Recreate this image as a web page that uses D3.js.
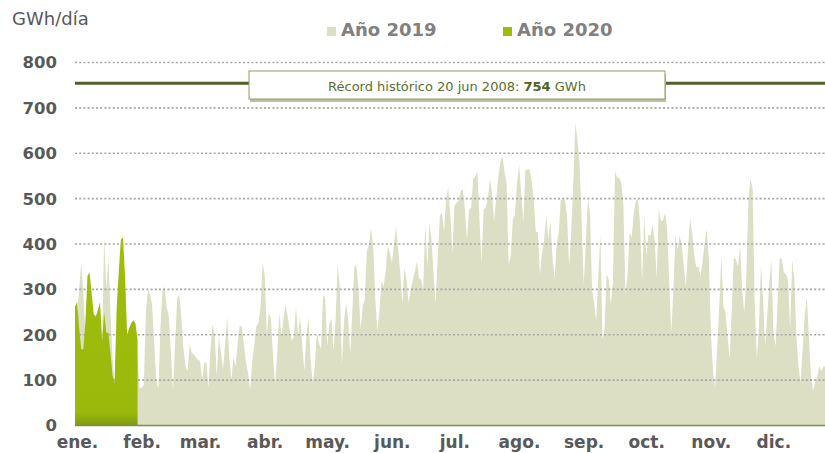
<!DOCTYPE html>
<html><head><meta charset="utf-8">
<script src="https://cdn.jsdelivr.net/npm/d3@7"></script>
<style>
html,body{margin:0;padding:0;background:#fff;}
svg{display:block;font-family:"DejaVu Sans",Verdana,sans-serif;}
</style></head>
<body>
<svg id="chart" width="825" height="453"></svg>
<script>
// ---- Data (GWh/día) ----
const monthLabels = ["ene.","feb.","mar.","abr.","may.","jun.","jul.","ago.","sep.","oct.","nov.","dic."];
const yTicks = [0,100,200,300,400,500,600,700,800];
const seriesNames = ["Año 2019","Año 2020"];
const recordValue = 754;
const recordText = "Récord histórico 20 jun 2008: ";

const ene2019 = [255,240,300,360,290,200,240,300,270,230,210,230,260,180,415,300,370,250,150,90,200,300,330,300,260,200,210,220,220,200,150];
const feb2019 = [83,83,90,250,300,290,265,180,100,80,220,300,305,260,240,160,76,180,280,290,240,170,130,120,180,160,157,150];
const mar2019 = [145,142,101,138,140,83,170,223,200,109,197,160,123,180,241,150,101,150,130,180,219,219,180,138,116,79,140,180,219,226,263];
const abr2019 = [359,330,200,249,235,150,90,160,249,197,235,267,241,210,186,197,263,197,241,175,120,197,238,146,93,130,204,182,168,289];
const may2019 = [278,175,226,234,164,234,355,307,135,226,271,234,157,249,351,351,300,212,263,278,385,399,436,396,285,208,250,318,306,340,395];
const jun2019 = [380,358,400,439,388,336,270,347,321,270,299,321,340,362,325,321,300,443,347,447,410,329,270,373,462,469,428,498,524,462];
const jul2019 = [380,484,491,495,517,521,476,410,476,480,543,550,559,454,358,476,480,498,543,513,450,500,547,580,595,558,535,355,373,454,465];
const ago2019 = [532,576,513,447,561,565,565,540,498,428,425,332,380,410,462,410,450,373,321,400,425,498,498,498,462,351,425,535,668,630,580];
const sep2019 = [450,310,400,500,470,300,270,229,330,420,190,212,333,322,267,315,561,546,546,535,491,290,329,425,414,469,495,499,447,315];
const oct2019 = [462,374,421,418,443,410,326,476,451,451,469,436,315,204,300,418,388,418,396,350,307,388,458,425,374,348,351,329,360,403,432];
const nov2019 = [366,204,120,83,168,263,374,263,249,197,146,256,370,366,351,396,300,249,329,499,546,521,271,149,212,355,278,175,241,315];
const dic2019 = [366,204,175,271,370,366,337,333,322,212,366,322,197,131,94,168,241,285,197,109,76,94,109,131,120,130,130,140,150,140,130];

const ene2020 = [262,272,215,168,168,230,330,337,290,245,240,255,272,186,250,204,205,160,110,94,260,340,410,415,330,200,215,226,232,225,190];

// ---- Build series ----
const start = new Date(2019,0,1);
const values2019 = [].concat(ene2019,feb2019,mar2019,abr2019,may2019,jun2019,jul2019,ago2019,sep2019,oct2019,nov2019,dic2019);
const s2019 = values2019.map((v,i)=>({date:d3.timeDay.offset(start,i), v}));
const s2020 = ene2020.map((v,i)=>({date:d3.timeDay.offset(start,i), v}));

const svg = d3.select("#chart");
const x = d3.scaleTime().domain([start, new Date(2020,0,1)]).range([75, 836]);
const y = d3.scaleLinear().domain([0,800]).range([425.5, 62.5]);

const c2019 = "#dcdfc4", c2020 = "#9dbb0b", olive = "#4f6228", txt = "#595959";

const defs = svg.append("defs");
const g20 = defs.append("linearGradient").attr("id","g20").attr("x1",0).attr("x2",0).attr("y1",0).attr("y2",1);
g20.append("stop").attr("offset","0%").attr("stop-color","#a0bd0c");
g20.append("stop").attr("offset","93%").attr("stop-color","#9ab90b");
g20.append("stop").attr("offset","100%").attr("stop-color","#7f9a12");

const area = d3.area().x(d=>x(d.date)).y0(y(0)).y1(d=>y(d.v)).curve(d3.curveLinear);

svg.append("path").datum(s2019).attr("d",area).attr("fill",c2019);

// gridlines (above 2019, below 2020)
svg.append("g").selectAll("line").data(yTicks.filter(t=>t>0)).join("line")
  .attr("x1",75).attr("x2",825).attr("y1",d=>y(d)).attr("y2",d=>y(d))
  .attr("stroke","#a6a6a6").attr("stroke-width",1.6).attr("stroke-dasharray","2,2.2");

svg.append("path").datum(s2020).attr("d",area).attr("fill","url(#g20)");

// baseline
svg.append("line").attr("x1",75).attr("x2",825).attr("y1",y(0)).attr("y2",y(0))
  .attr("stroke","#7d8a55").attr("stroke-width",1.5);

// y tick labels
svg.append("g").selectAll("text").data(yTicks).join("text")
  .attr("x",57).attr("y",d=>y(d)).attr("dy","0.36em").attr("text-anchor","end")
  .attr("font-size","16.5px").attr("font-weight","bold").attr("fill",txt).text(d=>d);

// x axis
const xAxis = d3.axisBottom(x).tickValues(d3.timeMonth.range(start,new Date(2020,0,1)))
  .tickSize(0).tickFormat((d,i)=>monthLabels[i]);
const gx = svg.append("g").attr("transform","translate(2,433)").call(xAxis);
gx.select(".domain").remove();
gx.selectAll("text").attr("font-size","17px").attr("font-weight","bold").attr("fill",txt)
  .attr("font-family","DejaVu Sans, Verdana, sans-serif");

// record line
svg.append("line").attr("x1",75).attr("x2",825).attr("y1",y(recordValue)).attr("y2",y(recordValue))
  .attr("stroke",olive).attr("stroke-width",3);

// record box
const bx=249, by=71, bw=416, bh=28;
svg.append("rect").attr("x",bx+1).attr("y",by+3).attr("width",bw).attr("height",bh).attr("fill","#b9c29e");
svg.append("rect").attr("x",bx).attr("y",by).attr("width",bw).attr("height",bh).attr("fill","#fff")
  .attr("stroke","#8d9b64").attr("stroke-width",1);
const rt = svg.append("text").attr("x",bx+bw/2).attr("y",by+20).attr("text-anchor","middle")
  .attr("font-size","13px").attr("fill","#5d6e30");
rt.append("tspan").text(recordText);
rt.append("tspan").attr("font-weight","bold").attr("fill",olive).text(recordValue);
rt.append("tspan").text(" GWh");

// unit label
svg.append("text").attr("x",12).attr("y",25).attr("font-size","18px").attr("fill",txt).text("GWh/día");

// legend
const legX = [327, 503], legC = [c2019, c2020];
seriesNames.forEach((n,i)=>{
  svg.append("rect").attr("x",legX[i]).attr("y",27).attr("width",9).attr("height",9).attr("fill",legC[i]);
  svg.append("text").attr("x",legX[i]+14).attr("y",36).attr("font-size","18px").attr("font-weight","bold")
    .attr("fill","#808080").text(n);
});
</script>
</body></html>
